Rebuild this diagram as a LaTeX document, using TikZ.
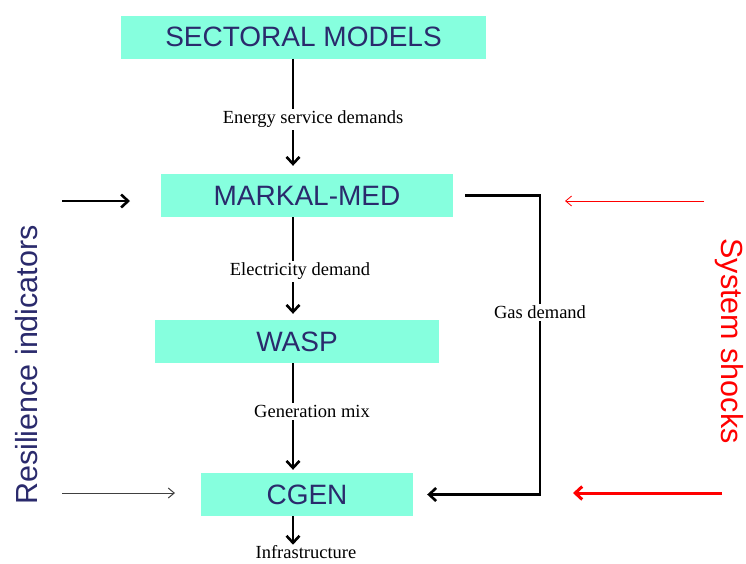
\documentclass[tikz,border=0pt]{standalone}
\usepackage{fontspec}
\setmainfont{Liberation Serif}
\newfontfamily\boxfont{Liberation Sans}
\usetikzlibrary{arrows, arrows.meta, calc, positioning}
\definecolor{boxfill}{RGB}{134,255,222}
\definecolor{boxtext}{RGB}{42,42,108}

\begin{document}
\begin{tikzpicture}[x = 1pt, y = -1pt]
  \tikzstyle{model} = [fill = boxfill, text = boxtext, inner sep = 0pt, minimum height = 43pt, font = \boxfont\fontsize{28}{30}\selectfont];
  \tikzstyle{flow} = [font = \fontsize{18.5}{20}\selectfont, fill = white, inner sep = 2pt];
  \tikzstyle{side} = [font = \boxfont\fontsize{30.5}{33}\selectfont, inner sep = 0pt];
  \tikzstyle{link} = [-{Straight Barb[length = 7pt, width = 13pt]}, line width = 2.6pt];
  \tikzstyle{thin} = [-{Straight Barb[length = 6pt, width = 10pt]}, line width = 1pt];

  \useasboundingbox (0,0) rectangle (746,563);

  \node[model, minimum width = 365pt] (sect) at (303.5,37) {SECTORAL MODELS};
  \node[model, minimum width = 292pt] (markal) at (307,195.5) {MARKAL-MED};
  \node[model, minimum width = 284pt] (wasp) at (297,341.5) {WASP};
  \node[model, minimum width = 212pt] (cgen) at (307,494.5) {CGEN};
  \node[flow, inner sep = 1pt] (infra) at (306,552.5) {Infrastructure};

  \node[side, text = boxtext, rotate = 90] (resil) at (27,365) {Resilience indicators};
  \node[side, text = red, rotate = -90] (shock) at (729,341) {System shocks};

  \coordinate (axis) at (293,0);
  \coordinate (gasR) at (540,0);
  \coordinate (inA) at (62,201);
  \coordinate (inB) at (130,201);
  \coordinate (inC) at (62,493);
  \coordinate (inD) at (175,493);
  \coordinate (shA) at (704,201);
  \coordinate (shB) at (565,201);
  \coordinate (shC) at (722,493);
  \coordinate (shD) at (573,493);

  \draw[link, shorten >= 8pt] (axis |- sect.south) -- node[flow, xshift = 20pt, yshift = -3pt] (esd) {Energy service demands} (axis |- markal.north);
  \draw[link, shorten >= 6pt] (axis |- markal.south) -- node[flow, xshift = 7pt, yshift = -3pt] (elec) {Electricity demand} (axis |- wasp.north);
  \draw[link, shorten >= 3pt] (axis |- wasp.south) -- node[flow, pos = 0.44, xshift = 19pt] (gen) {Generation mix} (axis |- cgen.north);
  \draw[link] (axis |- cgen.south) -- (axis |- infra.north);

  \draw[link, shorten <= 12pt, shorten >= 14pt] (markal.east) -- (markal.east -| gasR)
    -- node[flow, pos = 0.39] (gas) {Gas demand} (cgen.east -| gasR) -- (cgen.east);

  \draw[link] (inA) -- (inB);
  \draw[thin, black!75] (inC) -- (inD);
  \draw[thin, line width = 0.8pt, red] (shA) -- (shB);
  \draw[link, line width = 3pt, red] (shC) -- (shD);
\end{tikzpicture}
\end{document}
